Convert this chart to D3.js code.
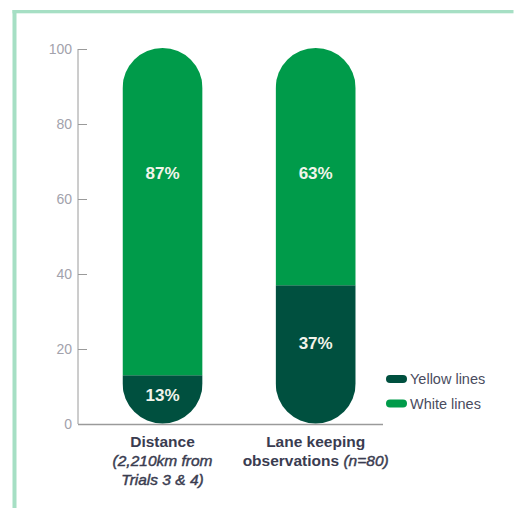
<!DOCTYPE html>
<html><head><meta charset="utf-8">
<script src="https://cdn.jsdelivr.net/npm/d3@7"></script>
<style>
html,body{margin:0;padding:0;background:#fff;}
svg{display:block;}
</style></head>
<body>
<script>
// ---- data ----
const categories = ["Distance", "Lane keeping observations"];
const yellowLines = [13, 37];
const whiteLines = [87, 63];
const seriesNames = ["Yellow lines", "White lines"];
const yTicks = [0, 20, 40, 60, 80, 100];
const labelLines = [
  [[{t:"Distance", b:true}], [{t:"(2,210km from", i:true}], [{t:"Trials 3 & 4)", i:true}]],
  [[{t:"Lane keeping", b:true}], [{t:"observations ", b:true}, {t:"(n=80)", i:true}]]
];

const W = 514, H = 508;
const colors = {yellow: "#00503f", white: "#009b4a"};
const svg = d3.select("body").append("svg").attr("width", W).attr("height", H);

// frame
svg.append("rect").attr("x", 12.5).attr("y", 10).attr("width", 4).attr("height", H - 10).attr("fill", "#a6dfc4");
svg.append("rect").attr("x", 12.5).attr("y", 10).attr("width", W - 13).attr("height", 3.3).attr("fill", "#a6dfc4");

const font = "'Liberation Sans', Arial, sans-serif";
const y = d3.scaleLinear().domain([0, 100]).range([424, 49]);
const x = d3.scaleBand().domain(categories).range([122.5, 355.7]).paddingInner(0.477).paddingOuter(0);
const axisX = 78;

// y axis
const yAxis = d3.axisRight(y).tickValues(yTicks).tickSize(9).tickFormat(d3.format("d"));
const gy = svg.append("g").attr("transform", `translate(${axisX},0)`).call(yAxis);
gy.select(".domain").attr("stroke", "#9a9a9a").attr("d", `M0,${y(100)}V${y(0)}`);
gy.selectAll(".tick line").attr("stroke", "#9a9a9a");
gy.selectAll(".tick text").attr("x", -6).attr("text-anchor", "end")
  .attr("fill", "#a2a2ac").style("font", `14px ${font}`);

// x baseline
svg.append("line").attr("x1", axisX).attr("x2", 383).attr("y1", y(0) + 0.5).attr("y2", y(0) + 0.5)
  .attr("stroke", "#9a9a9a").attr("stroke-width", 1.3);

// bars
const defs = svg.append("defs");
categories.forEach((c, i) => {
  const bw = x.bandwidth();
  defs.append("clipPath").attr("id", "clip" + i).append("rect")
    .attr("x", x(c)).attr("y", y(100) - 1).attr("width", bw).attr("height", y(0) - y(100) + 0.5)
    .attr("rx", bw / 2).attr("ry", bw / 2);
  const g = svg.append("g").attr("clip-path", `url(#clip${i})`);
  g.append("rect").attr("x", x(c)).attr("y", y(yellowLines[i])).attr("width", bw)
    .attr("height", y(0) - y(yellowLines[i]) + 1).attr("fill", colors.yellow);
  g.append("rect").attr("x", x(c)).attr("y", y(100) - 2).attr("width", bw)
    .attr("height", y(yellowLines[i]) - y(100) + 2).attr("fill", colors.white);
});

// value labels
const lblStyle = `bold 17px ${font}`;
categories.forEach((c, i) => {
  const cx = x(c) + x.bandwidth() / 2;
  svg.append("text").attr("x", cx).attr("y", y(67)).attr("dy", "0.36em").attr("text-anchor", "middle")
    .attr("fill", "#f2f4ea").style("font", lblStyle).text(whiteLines[i] + "%");
  const yv = yellowLines[i];
  const mid = (y(yv) + y(0)) / 2 - (yv > 20 ? 11.5 : 4.5);
  svg.append("text").attr("x", cx).attr("y", mid).attr("dy", "0.36em").attr("text-anchor", "middle")
    .attr("fill", "#f2f4ea").style("font", lblStyle).text(yv + "%");
});

// category labels
categories.forEach((c, i) => {
  const cx = x(c) + x.bandwidth() / 2;
  const t = svg.append("text").attr("text-anchor", "middle").attr("fill", "#3a3c50")
    .style("font-family", font).style("font-size", "15.5px");
  labelLines[i].forEach((line, li) => {
    line.forEach((seg, si) => {
      const ts = t.append("tspan").text(seg.t)
        .style("font-weight", seg.b ? "bold" : "normal")
        .style("font-style", seg.i ? "italic" : "normal");
      if (seg.i) ts.attr("stroke", "#3a3c50").attr("stroke-width", 0.45);
      if (si === 0) ts.attr("x", cx).attr("y", 447 + li * 19);
    });
  });
});

// legend
const legend = svg.append("g");
seriesNames.forEach((s, i) => {
  const yy = 379 + i * 24.5;
  legend.append("rect").attr("x", 386).attr("y", yy - 4).attr("width", 21).attr("height", 8)
    .attr("rx", 4).attr("fill", i === 0 ? colors.yellow : colors.white);
  legend.append("text").attr("x", 410).attr("y", yy).attr("dy", "0.36em").attr("fill", "#4a4c5e")
    .style("font", `14.5px ${font}`).text(s);
});
</script>
</body></html>
